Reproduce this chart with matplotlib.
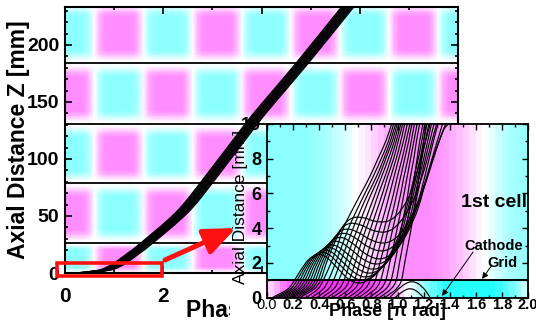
import numpy as np
import matplotlib
matplotlib.use('Agg')
import matplotlib.pyplot as plt
from matplotlib.colors import LinearSegmentedColormap, Normalize
from matplotlib.path import Path
from matplotlib.patches import PathPatch, Rectangle, FancyArrowPatch
from matplotlib.ticker import MultipleLocator, FormatStrFormatter

plt.rcParams['font.family'] = ['Liberation Sans', 'DejaVu Sans']

# ---------------- data ----------------
# main plot: RF cell boundaries [mm] and field sign per cell
cell_edges = [0, 26.3, 78.9, 130.7, 184.2, 237]
cell_sign = [1, -1, 1, -1, 1]
# field profile over one period of phase (0..2 pi, step 0.1 pi)
period_phase = [0.0, 0.1, 0.2, 0.3, 0.4, 0.5, 0.6, 0.7, 0.8, 0.9,
                1.0, 1.1, 1.2, 1.3, 1.4, 1.5, 1.6, 1.7, 1.8, 1.9]
stripe_profile = [1.0, 1.0, 1.0, 1.0, 0.95, 0.6, -0.05, -0.65, -0.95, -1.0,
                  -1.0, -1.0, -1.0, -1.0, -0.95, -0.6, 0.1, 0.7, 0.95, 1.0]
# field strength across a cell (fraction of cell length)
cell_frac = [0.0, 0.06, 0.14, 0.22, 0.78, 0.86, 0.94, 1.0]
cell_profile = [0.0, 0.1, 0.65, 1.0, 1.0, 0.65, 0.1, 0.0]

# main bundle of trajectories: centre line and phase offsets
bundle_z = [0, 1, 3, 7, 10, 18, 26, 52.6, 79, 131, 152, 184, 233, 245]
bundle_phase = [0.3, 0.55, 0.85, 1.06, 1.17, 1.42, 1.66, 2.37, 2.88, 3.80,
                4.20, 4.83, 5.75, 5.98]
bundle_offsets = [-0.13, -0.112, -0.095, -0.078, -0.06, -0.044, -0.028, -0.012,
                  0.004, 0.02, 0.036, 0.052, 0.07, 0.088, 0.106, 0.125]

# inset: field (colour) above and below the cathode grid, phase bins of 0.05 pi
inset_bins = [0.0, 0.05, 0.1, 0.15, 0.2, 0.25, 0.3, 0.35, 0.4, 0.45,
              0.5, 0.55, 0.6, 0.65, 0.7, 0.75, 0.8, 0.85, 0.9, 0.95,
              1.0, 1.05, 1.1, 1.15, 1.2, 1.25, 1.3, 1.35, 1.4, 1.45,
              1.5, 1.55, 1.6, 1.65, 1.7, 1.75, 1.8, 1.85, 1.9, 1.95, 2.0]
field_above = [1.0, 1.0, 1.0, 1.0, 1.0, 1.0, 0.95, 0.88, 0.8, 0.7,
               0.55, 0.42, 0.28, 0.05, -0.12, -0.25, -0.4, -0.55, -0.68, -0.8,
               -0.9, -1.0, -1.0, -1.0, -1.0, -0.95, -0.88, -0.8, -0.68, -0.55,
               -0.42, -0.28, -0.12, 0.05, 0.25, 0.45, 0.6, 0.75, 0.85, 0.9]
field_below = [-0.4, -0.7, -1.2, -1.5, -1.7, -1.85, -1.95, -2.0, -2.0, -2.0,
               -2.0, -2.0, -2.0, -2.0, -2.0, -1.9, -1.75, -1.55, -1.3, -0.9,
               -0.4, 0.0, 0.35, 0.7, 1.05, 1.4, 1.7, 2.0, 2.0, 2.0,
               2.0, 2.0, 2.0, 2.0, 2.0, 1.85, 1.6, 1.3, 0.9, 0.5]
grid_z = 1.0

# inset trajectories emitted early (hump, fall back, then accelerate)
hump_phase = [
    [0.04, 0.16, 0.21, 0.26, 0.32, 0.39, 0.46, 0.54, 0.62, 0.69, 0.76, 0.84, 0.92, 1.00, 1.06, 1.12, 1.17, 1.21],
    [0.06, 0.18, 0.23, 0.28, 0.34, 0.41, 0.48, 0.56, 0.64, 0.715, 0.79, 0.87, 0.95, 1.03, 1.09, 1.15, 1.20, 1.225],
    [0.08, 0.20, 0.25, 0.30, 0.36, 0.43, 0.50, 0.58, 0.66, 0.74, 0.82, 0.90, 0.98, 1.06, 1.12, 1.18, 1.24],
    [0.10, 0.22, 0.27, 0.32, 0.38, 0.45, 0.52, 0.60, 0.685, 0.77, 0.85, 0.93, 1.01, 1.09, 1.15, 1.21, 1.26],
    [0.12, 0.24, 0.29, 0.34, 0.40, 0.47, 0.54, 0.62, 0.71, 0.80, 0.88, 0.96, 1.04, 1.12, 1.18, 1.24, 1.28],
    [0.14, 0.26, 0.31, 0.36, 0.42, 0.49, 0.56, 0.64, 0.73, 0.82, 0.90, 0.98, 1.06, 1.14, 1.21, 1.27, 1.31],
    [0.16, 0.28, 0.33, 0.38, 0.44, 0.51, 0.58, 0.66, 0.75, 0.84, 0.92, 1.00, 1.08, 1.16, 1.23, 1.30, 1.345],
    [0.18, 0.30, 0.35, 0.40, 0.46, 0.53, 0.60, 0.68, 0.77, 0.86, 0.94, 1.02, 1.10, 1.18, 1.26, 1.33, 1.37],
    [0.20, 0.32, 0.37, 0.42, 0.48, 0.55, 0.62, 0.70, 0.79, 0.88, 0.96, 1.04, 1.12, 1.20, 1.28, 1.35, 1.39],
    [0.225, 0.34, 0.39, 0.44, 0.50, 0.57, 0.64, 0.72, 0.81, 0.90, 0.98, 1.06, 1.14, 1.21, 1.27, 1.30],
    [0.25, 0.36, 0.41, 0.46, 0.52, 0.59, 0.66, 0.74, 0.83, 0.92, 1.00, 1.08, 1.14, 1.20, 1.25],
]
hump_z = [
    [0, 0.5, 1.0, 1.6, 2.2, 2.5, 2.3, 1.7, 1.1, 0.85, 0.95, 1.4, 2.2, 3.4, 4.9, 6.7, 8.4, 10.0],
    [0, 0.5, 1.0, 1.65, 2.28, 2.62, 2.45, 1.88, 1.3, 1.02, 1.15, 1.65, 2.5, 3.75, 5.4, 7.2, 9.0, 10.0],
    [0, 0.5, 1.0, 1.7, 2.35, 2.75, 2.6, 2.05, 1.5, 1.2, 1.35, 1.9, 2.8, 4.1, 5.9, 7.8, 10.0],
    [0, 0.5, 1.0, 1.75, 2.45, 2.88, 2.78, 2.28, 1.72, 1.42, 1.57, 2.15, 3.1, 4.5, 6.4, 8.3, 10.0],
    [0, 0.5, 1.0, 1.8, 2.55, 3.0, 2.95, 2.5, 1.95, 1.65, 1.8, 2.4, 3.4, 4.9, 6.9, 8.8, 10.0],
    [0, 0.5, 1.0, 1.85, 2.65, 3.18, 3.2, 2.8, 2.25, 1.95, 2.07, 2.62, 3.6, 5.05, 7.0, 8.85, 10.0],
    [0, 0.5, 1.0, 1.9, 2.75, 3.35, 3.45, 3.1, 2.55, 2.25, 2.35, 2.85, 3.8, 5.2, 7.1, 8.9, 10.0],
    [0, 0.5, 1.0, 1.95, 2.88, 3.55, 3.7, 3.42, 2.95, 2.7, 2.82, 3.35, 4.35, 5.8, 7.65, 9.25, 10.0],
    [0, 0.5, 1.0, 2.0, 3.0, 3.75, 3.95, 3.75, 3.35, 3.15, 3.3, 3.85, 4.9, 6.4, 8.2, 9.6, 10.0],
    [0, 0.5, 1.0, 2.05, 3.1, 3.98, 4.28, 4.18, 3.88, 3.78, 4.05, 4.78, 5.95, 7.5, 9.2, 10.0],
    [0, 0.5, 1.0, 2.1, 3.2, 4.2, 4.6, 4.6, 4.4, 4.4, 4.8, 5.7, 7.0, 8.6, 10.0],
]
# inset trajectories emitted later: phase at the levels of steady_z
steady_z = [0, 0.5, 1, 2, 3, 4, 5, 6, 7, 8, 9, 10]
steady_phase = [
    [0.30, 0.39, 0.43, 0.49, 0.54, 0.585, 0.65, 0.72, 0.79, 0.85, 0.91, 0.955],
    [0.34, 0.43, 0.47, 0.525, 0.575, 0.625, 0.685, 0.75, 0.815, 0.875, 0.93, 0.97],
    [0.38, 0.47, 0.51, 0.56, 0.61, 0.66, 0.715, 0.775, 0.84, 0.895, 0.945, 0.985],
    [0.42, 0.51, 0.55, 0.60, 0.645, 0.695, 0.745, 0.80, 0.86, 0.91, 0.96, 0.997],
    [0.46, 0.55, 0.59, 0.635, 0.68, 0.73, 0.78, 0.83, 0.88, 0.93, 0.975, 1.01],
    [0.50, 0.59, 0.63, 0.675, 0.715, 0.76, 0.81, 0.855, 0.905, 0.95, 0.99, 1.025],
    [0.54, 0.63, 0.67, 0.71, 0.75, 0.795, 0.84, 0.885, 0.925, 0.97, 1.005, 1.04],
    [0.58, 0.67, 0.71, 0.75, 0.79, 0.83, 0.87, 0.91, 0.95, 0.99, 1.025, 1.055],
    [0.62, 0.71, 0.75, 0.79, 0.825, 0.865, 0.905, 0.94, 0.975, 1.01, 1.045, 1.075],
    [0.66, 0.75, 0.79, 0.83, 0.865, 0.90, 0.935, 0.97, 1.0, 1.035, 1.065, 1.095],
    [0.70, 0.79, 0.83, 0.865, 0.90, 0.93, 0.965, 0.995, 1.025, 1.055, 1.085, 1.11],
    [0.74, 0.83, 0.87, 0.905, 0.935, 0.965, 0.995, 1.025, 1.05, 1.08, 1.105, 1.13],
    [0.78, 0.87, 0.91, 0.94, 0.97, 0.998, 1.025, 1.05, 1.075, 1.10, 1.125, 1.15],
    [0.82, 0.91, 0.95, 0.98, 1.005, 1.03, 1.055, 1.08, 1.10, 1.125, 1.145, 1.17],
    [0.86, 0.95, 0.99, 1.015, 1.04, 1.065, 1.09, 1.11, 1.13, 1.15, 1.17, 1.195],
    [0.90, 0.99, 1.03, 1.055, 1.08, 1.105, 1.125, 1.145, 1.165, 1.185, 1.20, 1.22],
]
# electrons pushed back to the cathode
back_phase = [[0.94, 1.00, 1.06, 1.11, 1.16, 1.21, 1.25],
              [0.98, 1.03, 1.08, 1.12, 1.16, 1.20]]
back_z = [[0, 0.45, 0.8, 0.92, 0.8, 0.45, 0.0],
          [0, 0.3, 0.5, 0.48, 0.3, 0.0]]

main_yticks = [0, 50, 100, 150, 200]
main_xticks = [0, 2, 4, 6, 8]
main_xticklabels = ['0', '2', '', '', '']   # 4, 6, 8 lie under the inset

# ---------------- figure ----------------
W, H = 536, 329
fig = plt.figure(figsize=(W / 100, H / 100), dpi=100)

def frect(l, t, r, b):
    return [l / W, 1 - b / H, (r - l) / W, (b - t) / H]

cmap = LinearSegmentedColormap.from_list(
    'mc', [(0.0, (1.0, 0.2, 1.0)), (0.25, (1.0, 0.55, 1.0)), (0.5, (1, 1, 1)),
           (0.75, (0.55, 1.0, 1.0)), (1.0, (0.15, 1.0, 1.0))])
norm = Normalize(-2, 2)

bold = dict(fontweight='bold')


def smooth_curve(axis, px, pz, lw=0.9, color='black', zorder=3):
    P = np.column_stack([px, pz]).astype(float)
    Pe = np.vstack([P[0], P, P[-1]])
    verts = [P[0]]
    codes = [Path.MOVETO]
    for i in range(len(P) - 1):
        p0, p1, p2, p3 = Pe[i], Pe[i + 1], Pe[i + 2], Pe[i + 3]
        verts += [p1 + (p2 - p0) / 6.0, p2 - (p3 - p1) / 6.0, p2]
        codes += [Path.CURVE4] * 3
    axis.add_patch(PathPatch(Path(verts, codes), fill=False, ec=color, lw=lw,
                             zorder=zorder))


# ---- main axes
ax = fig.add_axes(frect(65, 7, 458, 273))
ax.set_zorder(1)
ax.set_xlim(0, 8)
ax.set_ylim(0, 233.3)

xs = np.concatenate([np.array(period_phase) + 2 * k for k in range(4)] + [[8.0]])
prof = np.concatenate([stripe_profile] * 4 + [[stripe_profile[0]]])
for i, s in enumerate(cell_sign):
    lo, hi = cell_edges[i], cell_edges[i + 1]
    zs = lo + np.array(cell_frac) * (hi - lo)
    C = np.outer(np.array(cell_profile) * s, prof)
    X, Z = np.meshgrid(xs, zs)
    ax.pcolormesh(X, Z, C, shading='gouraud', cmap=cmap, norm=norm, zorder=0,
                  rasterized=True)
for e in cell_edges[1:-1]:
    ax.axhline(e, color='black', lw=1.3, zorder=2)

for d in bundle_offsets:
    smooth_curve(ax, np.array(bundle_phase) + d, bundle_z, lw=0.75)

ax.set_xticks(main_xticks)
ax.set_xticklabels(main_xticklabels)
ax.set_yticks(main_yticks)
ax.xaxis.set_minor_locator(MultipleLocator(1))
ax.yaxis.set_minor_locator(MultipleLocator(10))
ax.tick_params(which='both', direction='in', top=True, right=True, width=1.2)
ax.tick_params(which='major', length=5)
ax.tick_params(which='minor', length=2.5)
ax.tick_params(axis='y', labelsize=14, pad=4)
ax.tick_params(axis='x', labelsize=15, pad=10)
for lab in ax.get_xticklabels() + ax.get_yticklabels():
    lab.set_fontweight('bold')
for sp in ax.spines.values():
    sp.set_linewidth(1.5)

# red marker rectangle
ax.add_patch(Rectangle((-0.163, -2.6), 2.143, 11.4, fill=False, ec='#ff1010',
                       lw=2.6, clip_on=False, zorder=10))

fig.text(19 / W, 1 - 140 / H, 'Axial Distance Z [mm]', rotation=90, ha='center',
         va='center', fontsize=16.5, zorder=1.5, **bold)
fig.text(260 / W, 1 - 311 / H, 'Phase [π rad]', ha='center', va='center',
         fontsize=16.5, zorder=1.5, **bold)

# white cover under the inset
fig.add_artist(Rectangle((230 / W, 0), 1 - 230 / W, (329 - 276) / H,
                         transform=fig.transFigure, fc='white', ec='none', zorder=2))

# ---- inset axes
ax2 = fig.add_axes(frect(267, 124, 528, 297.7))
ax2.set_zorder(3)
ax2.set_xlim(0, 2)
ax2.set_ylim(0, 10)
bins = np.array(inset_bins)
ax2.pcolormesh(bins, [grid_z, 10], np.array([field_above]), cmap=cmap, norm=norm,
               shading='flat', zorder=0, rasterized=True)
ax2.pcolormesh(bins, [0, grid_z], np.array([field_below]), cmap=cmap, norm=norm,
               shading='flat', zorder=0, rasterized=True)

for px, pz in zip(hump_phase, hump_z):
    smooth_curve(ax2, px, pz, lw=0.85)
for px in steady_phase:
    smooth_curve(ax2, px, steady_z, lw=0.85)
for px, pz in zip(back_phase, back_z):
    smooth_curve(ax2, px, pz, lw=0.85)

ax2.axhline(grid_z, color='black', lw=1.4, zorder=4)

ax2.xaxis.set_major_locator(MultipleLocator(0.2))
ax2.xaxis.set_minor_locator(MultipleLocator(0.1))
ax2.yaxis.set_major_locator(MultipleLocator(2))
ax2.yaxis.set_minor_locator(MultipleLocator(1))
ax2.xaxis.set_major_formatter(FormatStrFormatter('%.1f'))
ax2.tick_params(which='both', direction='in', top=True, right=True, width=1.0)
ax2.tick_params(which='major', length=4)
ax2.tick_params(which='minor', length=2)
ax2.tick_params(axis='x', labelsize=10.5, pad=0.2)
ax2.tick_params(axis='y', labelsize=13, pad=4)
fig.canvas.draw()
for k, lab in enumerate(ax2.get_xticklabels()):
    lab.set_fontweight('normal' if k < 2 else 'bold')
for lab in ax2.get_yticklabels():
    lab.set_fontweight('bold')
for sp in ax2.spines.values():
    sp.set_linewidth(1.3)

fig.text(241 / W, 1 - 207 / H, 'Axial Distance [mm]', rotation=90, ha='center',
         va='center', fontsize=12.5, zorder=4)
fig.text(387.5 / W, 1 - 311.5 / H, 'Phase [π rad]', ha='center', va='center',
         fontsize=13, zorder=4, **bold)

ax2.text(1.99, 5.5, '1st cell', ha='right', va='center', fontsize=14, zorder=6, **bold)
ax2.text(1.735, 2.98, 'Cathode', ha='center', va='center', fontsize=10.5, zorder=6, **bold)
ax2.text(1.805, 2.0, 'Grid', ha='center', va='center', fontsize=10.5, zorder=6, **bold)
ax2.annotate('', xy=(1.341, 0.10), xytext=(1.579, 2.63),
             arrowprops=dict(arrowstyle='-|>', lw=0.7, color='black',
                             mutation_scale=9, shrinkA=0, shrinkB=0), zorder=6)
ax2.annotate('', xy=(1.648, 1.08), xytext=(1.724, 1.88),
             arrowprops=dict(arrowstyle='-|>', lw=0.7, color='black',
                             mutation_scale=9, shrinkA=0, shrinkB=0), zorder=6)

# red arrow pointing at the inset
fig.add_artist(FancyArrowPatch((165 / W, 1 - 260 / H), (236 / W, 1 - 228 / H),
                               transform=fig.transFigure,
                               arrowstyle='-|>,head_length=0.6,head_width=0.25',
                               mutation_scale=32, lw=3.6, color='#ff1010',
                               shrinkA=0, shrinkB=0, zorder=5))

fig.savefig('out.png', dpi=100)
